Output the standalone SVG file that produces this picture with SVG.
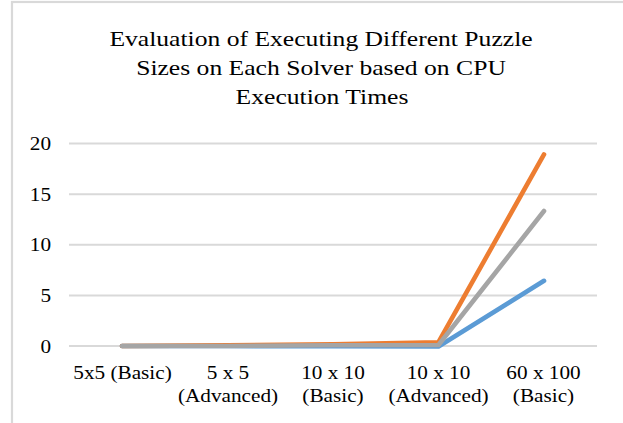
<svg xmlns="http://www.w3.org/2000/svg" width="623" height="423" viewBox="0 0 623 423">
<style>
text{font-family:"Liberation Serif","Times New Roman",serif;fill:#000}
.t{font-size:21px}
.a{font-size:18px}
.g{stroke:#d9d9d9;stroke-width:2;fill:none}
.s{fill:none;stroke-width:4.6;stroke-linecap:round;stroke-linejoin:round}
</style>
<rect width="623" height="423" fill="#fff"/>
<rect x="12" y="2" width="700" height="500" fill="none" stroke="#d9d9d9" stroke-width="2.2"/>
<g id="title" text-anchor="middle">
<text class="t" transform="translate(321,46) scale(1.22,1)">Evaluation of Executing Different Puzzle</text>
<text class="t" transform="translate(321,75) scale(1.22,1)">Sizes on Each Solver based on CPU</text>
<text class="t" transform="translate(322,104) scale(1.22,1)">Execution Times</text>
</g>
<g id="grid">
<line class="g" x1="69" y1="143.5" x2="597" y2="143.5"/>
<line class="g" x1="69" y1="194.2" x2="597" y2="194.2"/>
<line class="g" x1="69" y1="244.8" x2="597" y2="244.8"/>
<line class="g" x1="69" y1="295.5" x2="597" y2="295.5"/>
<line class="g" x1="69" y1="346" x2="597" y2="346"/>
</g>
<g id="y-axis" text-anchor="end">
<text class="a" transform="translate(51,150) scale(1.18,1)">20</text>
<text class="a" transform="translate(51,200.7) scale(1.18,1)">15</text>
<text class="a" transform="translate(51,251.3) scale(1.18,1)">10</text>
<text class="a" transform="translate(51,302) scale(1.18,1)">5</text>
<text class="a" transform="translate(51,352.5) scale(1.18,1)">0</text>
</g>
<g id="x-axis" text-anchor="middle">
<text class="a" transform="translate(122.5,378.5) scale(1.18,1)">5x5 (Basic)</text>
<text class="a" transform="translate(228,378.5) scale(1.18,1)">5 x 5</text>
<text class="a" transform="translate(228,401.5) scale(1.18,1)">(Advanced)</text>
<text class="a" transform="translate(333,378.5) scale(1.18,1)">10 x 10</text>
<text class="a" transform="translate(333,401.5) scale(1.18,1)">(Basic)</text>
<text class="a" transform="translate(438.5,378.5) scale(1.18,1)">10 x 10</text>
<text class="a" transform="translate(438.5,401.5) scale(1.18,1)">(Advanced)</text>
<text class="a" transform="translate(543.5,378.5) scale(1.18,1)">60 x 100</text>
<text class="a" transform="translate(543.5,401.5) scale(1.18,1)">(Basic)</text>
</g>
<g id="connectors">
<polyline id="series-blue" class="s" stroke="#5b9bd5" points="122,346 227.5,346 333,346.3 438.5,346.5 544,280.8"/>
<polyline id="series-orange" class="s" stroke="#ed7d31" points="122,346 227.5,345.4 333,344.2 438.5,342.2 544,154.4"/>
<polyline id="series-grey" class="s" stroke="#a5a5a5" points="122,346 227.5,346 333,345.3 438.5,345 544,211"/>
</g>
</svg>
